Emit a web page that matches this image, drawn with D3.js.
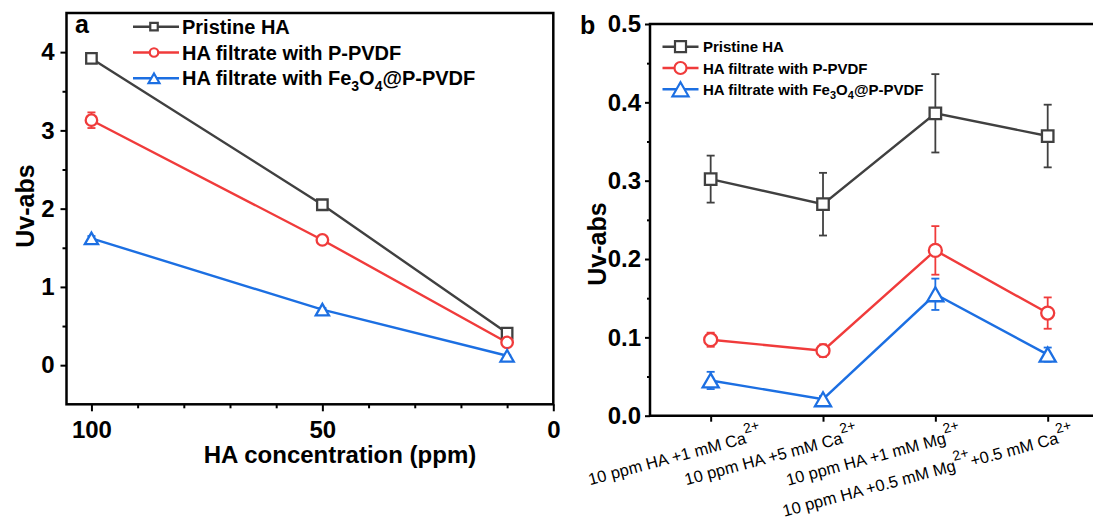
<!DOCTYPE html>
<html>
<head>
<meta charset="utf-8">
<script src="https://cdn.jsdelivr.net/npm/d3@7"></script>
<style>
  body { margin: 0; background: #fff; }
  svg { display: block; font-family: Arial, "Liberation Sans", sans-serif; }
</style>
</head>
<body>
<svg id="chart" width="1093" height="520"></svg>
<script>
// ---- panel a data ----
const concA = [100, 50, 10];
const pristineA = [3.92, 2.05, 0.41];
const pristineErrA = [0.03, 0.02, 0.02];
const ppvdfA = [3.13, 1.60, 0.29];
const ppvdfErrA = [0.10, 0.03, 0.02];
const fe3o4A = [1.62, 0.71, 0.12];
const fe3o4ErrA = [0.03, 0.02, 0.01];
const xTicksA = [100, 50, 0];
const xMinorA = [90, 80, 70, 60, 40, 30, 20, 10];
const yTicksA = [0, 1, 2, 3, 4];
const yMinorA = [0.5, 1.5, 2.5, 3.5];

// ---- panel b data ----
const conditionsB = [
  "10 ppm HA +1 mM Ca^2+",
  "10 ppm HA +5 mM Ca^2+",
  "10 ppm HA +1 mM Mg^2+",
  "10 ppm HA +0.5 mM Mg^2++0.5 mM Ca^2+"
];
const pristineB = [0.302, 0.270, 0.386, 0.357];
const pristineErrB = [0.030, 0.040, 0.050, 0.040];
const ppvdfB = [0.097, 0.083, 0.211, 0.131];
const ppvdfErrB = [0.009, 0.008, 0.031, 0.020];
const fe3o4B = [0.045, 0.021, 0.155, 0.078];
const fe3o4ErrB = [0.011, 0.004, 0.020, 0.009];
const yTicksB = [0, 0.1, 0.2, 0.3, 0.4, 0.5];
const yMinorB = [0.05, 0.15, 0.25, 0.35, 0.45];

const seriesNames = ["Pristine HA", "HA filtrate with P-PVDF", "HA filtrate with Fe_3O_4@P-PVDF"];
const colors = ["#404040", "#f03b3b", "#1c6fe2"];
const shapes = ["square", "circle", "triangle"];

const svg = d3.select("#chart");

function shapePath(shape, s) {
  if (shape === "square") return `M${-s / 2},${-s / 2}h${s}v${s}h${-s}Z`;
  if (shape === "circle") {
    const r = s / 2;
    return `M${-r},0a${r},${r} 0 1,0 ${2 * r},0a${r},${r} 0 1,0 ${-2 * r},0Z`;
  }
  const w = s * 1.15, h = s;
  return `M0,${-h / 2}L${w / 2},${h / 2}L${-w / 2},${h / 2}Z`;
}

// text with ^2+ superscripts and _n subscripts
function richText(sel, str, size, small, shift) {
  const parts = str.split(/(\^2\+|_\d)/).filter(p => p !== "");
  let offset = 0;
  parts.forEach(p => {
    let target = 0, txt = p, fs = size;
    if (p[0] === "^") { target = -shift; txt = p.slice(1); fs = small; }
    else if (p[0] === "_") { target = shift * 0.55; txt = p.slice(1); fs = small; }
    sel.append("tspan").attr("dy", target - offset).attr("font-size", fs).text(txt);
    offset = target;
  });
}

function styleAxis(g) {
  g.select(".domain").remove();
  g.selectAll(".tick line").attr("stroke", "#000").attr("stroke-width", 2);
  g.selectAll(".tick text").attr("fill", "#000").attr("font-weight", "bold")
    .attr("font-size", 24).attr("font-family", "Arial, 'Liberation Sans', sans-serif");
}

function drawSeries(g, xs, x, y, vals, errs, color, shape, size, cap) {
  g.append("g").selectAll("line").data(vals).enter().append("line")
    .attr("x1", (d, i) => x(xs[i])).attr("x2", (d, i) => x(xs[i]))
    .attr("y1", (d, i) => y(d + errs[i])).attr("y2", (d, i) => y(d - errs[i]))
    .attr("stroke", color).attr("stroke-width", 1.8);
  ["+", "-"].forEach(sign => {
    g.append("g").selectAll("line").data(vals).enter().append("line")
      .attr("x1", (d, i) => x(xs[i]) - cap / 2).attr("x2", (d, i) => x(xs[i]) + cap / 2)
      .attr("y1", (d, i) => y(sign === "+" ? d + errs[i] : d - errs[i]))
      .attr("y2", (d, i) => y(sign === "+" ? d + errs[i] : d - errs[i]))
      .attr("stroke", color).attr("stroke-width", 1.8);
  });
  g.append("g").selectAll("path").data(vals).enter().append("path")
    .attr("d", shapePath(shape, size))
    .attr("transform", (d, i) => `translate(${x(xs[i])},${y(d)})`)
    .attr("fill", "#fff").attr("stroke", color).attr("stroke-width", 2.3);
}

// ================= panel a =================
const xA = d3.scaleLinear().domain([105.4, 0]).range([66.5, 553.3]);
const yA = d3.scaleLinear().domain([-0.5, 4.5]).range([404.3, 13]);
const gA = svg.append("g");
const valsA = [pristineA, ppvdfA, fe3o4A];
const errsA = [pristineErrA, ppvdfErrA, fe3o4ErrA];
const sizesA = { square: 10.5, circle: 11.5, triangle: 11.5 };

gA.append("g").attr("transform", `translate(0,${yA.range()[0]})`)
  .call(d3.axisBottom(xA).tickValues(xTicksA).tickSize(7).tickPadding(10).tickFormat(d3.format("d")))
  .call(styleAxis);
gA.append("g").attr("transform", `translate(0,${yA.range()[0]})`)
  .call(d3.axisBottom(xA).tickValues(xMinorA).tickSize(4).tickFormat(""))
  .call(styleAxis);
gA.append("g").attr("transform", `translate(${xA.range()[0]},0)`)
  .call(d3.axisLeft(yA).tickValues(yTicksA).tickSize(6).tickPadding(6).tickFormat(d3.format("d")))
  .call(styleAxis);
gA.append("g").attr("transform", `translate(${xA.range()[0]},0)`)
  .call(d3.axisLeft(yA).tickValues(yMinorA).tickSize(4).tickFormat(""))
  .call(styleAxis);

gA.append("rect")
  .attr("x", xA.range()[0]).attr("y", yA.range()[1])
  .attr("width", xA.range()[1] - xA.range()[0]).attr("height", yA.range()[0] - yA.range()[1])
  .attr("fill", "none").attr("stroke", "#000").attr("stroke-width", 2.5);

const lineA = d3.line().x((d, i) => xA(concA[i])).y(d => yA(d));
valsA.forEach((v, k) => {
  gA.append("path").attr("d", lineA(v)).attr("fill", "none")
    .attr("stroke", colors[k]).attr("stroke-width", 2.4);
});
valsA.forEach((v, k) => {
  drawSeries(gA, concA, xA, yA, v, errsA[k], colors[k], shapes[k], sizesA[shapes[k]], 8);
});

gA.append("text").attr("x", 75).attr("y", 33).attr("font-size", 25)
  .attr("font-weight", "bold").text("a");
gA.append("text").attr("transform", "translate(34,206) rotate(-90)")
  .attr("text-anchor", "middle").attr("font-size", 25).attr("font-weight", "bold").text("Uv-abs");
gA.append("text").attr("x", 340).attr("y", 463).attr("text-anchor", "middle")
  .attr("font-size", 24).attr("font-weight", "bold").text("HA concentration (ppm)");

const legA = gA.append("g");
const legSizesA = { square: 7.5, circle: 8.5, triangle: 9.5 };
seriesNames.forEach((name, k) => {
  const yy = 26.7 + k * 25.8;
  legA.append("line").attr("x1", 133).attr("x2", 179).attr("y1", yy).attr("y2", yy)
    .attr("stroke", colors[k]).attr("stroke-width", 2.4);
  legA.append("path").attr("d", shapePath(shapes[k], legSizesA[shapes[k]]))
    .attr("transform", `translate(154,${yy})`)
    .attr("fill", "#fff").attr("stroke", colors[k]).attr("stroke-width", 2.2);
  const t = legA.append("text").attr("x", 182).attr("y", yy + 7)
    .attr("font-weight", "bold").attr("font-size", 20);
  richText(t, name, 20, 14, 10);
});

// ================= panel b =================
const xB = d3.scaleLinear().domain([0.46, 4.47]).range([650, 1100.5]);
const yB = d3.scaleLinear().domain([0, 0.5]).range([415.7, 24]);
const gB = svg.append("g");
const idxB = conditionsB.map((c, i) => i + 1);
const valsB = [pristineB, ppvdfB, fe3o4B];
const errsB = [pristineErrB, ppvdfErrB, fe3o4ErrB];
const sizesB = { square: 11.5, circle: 13, triangle: 14 };

gB.append("g").attr("transform", `translate(${xB.range()[0]},0)`)
  .call(d3.axisLeft(yB).tickValues(yTicksB).tickSize(5).tickPadding(4).tickFormat(d3.format(".1f")))
  .call(styleAxis);
gB.append("g").attr("transform", `translate(${xB.range()[0]},0)`)
  .call(d3.axisLeft(yB).tickValues(yMinorB).tickSize(3).tickFormat(""))
  .call(styleAxis);
gB.append("g").attr("transform", `translate(0,${yB.range()[0]})`)
  .call(d3.axisBottom(xB).tickValues(idxB).tickSize(6).tickFormat(""))
  .call(styleAxis);

gB.append("path")
  .attr("d", `M${xB.range()[1]},${yB.range()[1]}H${xB.range()[0]}V${yB.range()[0]}H${xB.range()[1]}`)
  .attr("fill", "none").attr("stroke", "#000").attr("stroke-width", 2.5);

const lineB = d3.line().x((d, i) => xB(idxB[i])).y(d => yB(d));
valsB.forEach((v, k) => {
  gB.append("path").attr("d", lineB(v)).attr("fill", "none")
    .attr("stroke", colors[k]).attr("stroke-width", 2.4);
});
valsB.forEach((v, k) => {
  drawSeries(gB, idxB, xB, yB, v, errsB[k], colors[k], shapes[k], sizesB[shapes[k]], 8);
});

const labelShiftB = [52, 36, 27, 27];
gB.append("g").selectAll("text").data(conditionsB).enter().append("text")
  .attr("transform", (d, i) => `translate(${xB(idxB[i]) + labelShiftB[i]},439) rotate(-15)`)
  .attr("text-anchor", "end").attr("font-size", 16.5)
  .each(function (d) { richText(d3.select(this), d, 16.5, 14, 10); });

gB.append("text").attr("x", 580).attr("y", 34).attr("font-size", 25)
  .attr("font-weight", "bold").text("b");
gB.append("text").attr("transform", "translate(606,244) rotate(-90)")
  .attr("text-anchor", "middle").attr("font-size", 25).attr("font-weight", "bold").text("Uv-abs");

const legB = gB.append("g");
const legSizesB = { square: 11, circle: 12, triangle: 14 };
seriesNames.forEach((name, k) => {
  const yy = 46.7 + k * 21.3;
  legB.append("line").attr("x1", 662.5).attr("x2", 698.5).attr("y1", yy).attr("y2", yy)
    .attr("stroke", colors[k]).attr("stroke-width", 2.4);
  legB.append("path").attr("d", shapePath(shapes[k], legSizesB[shapes[k]]))
    .attr("transform", `translate(680.5,${yy})`)
    .attr("fill", "#fff").attr("stroke", colors[k]).attr("stroke-width", 2.2);
  const t = legB.append("text").attr("x", 703).attr("y", yy + 5.5)
    .attr("font-weight", "bold").attr("font-size", 15);
  richText(t, name, 15, 11, 7);
});
</script>
</body>
</html>
